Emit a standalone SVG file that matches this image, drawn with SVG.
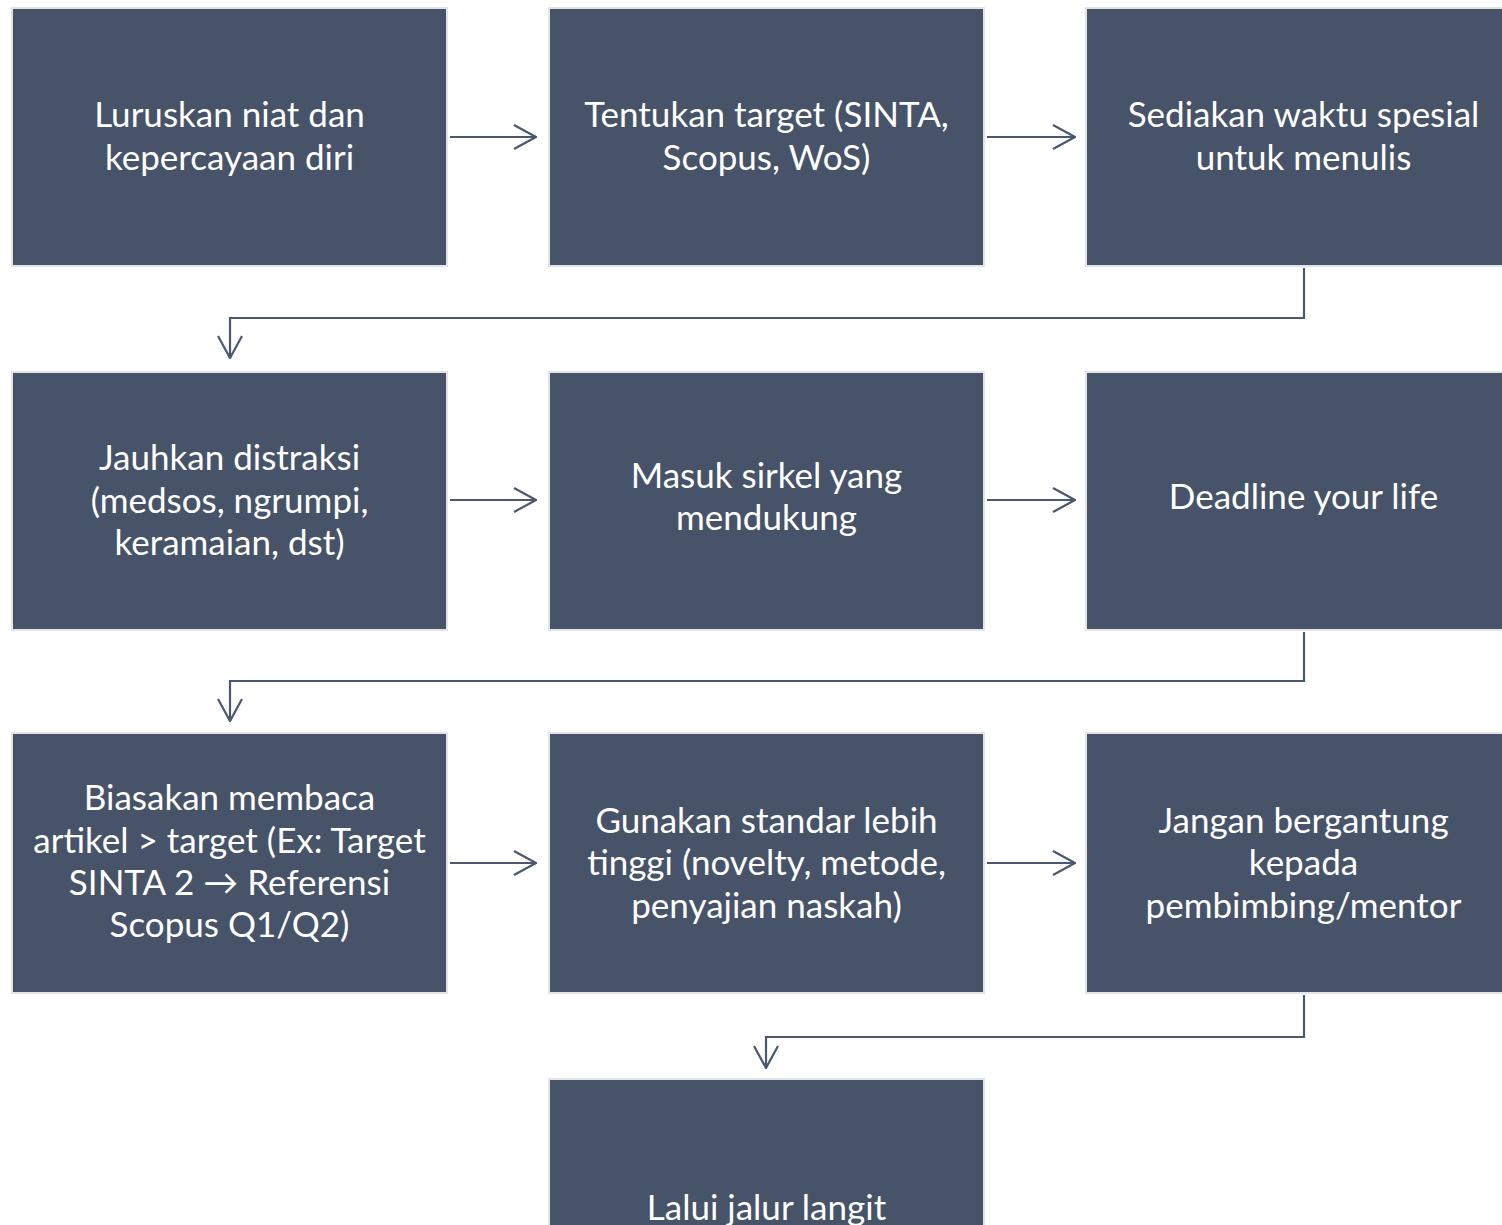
<svg xmlns="http://www.w3.org/2000/svg" width="1502" height="1225" viewBox="0 0 1502 1225">
<defs>
<style>
.box{fill:#465369;stroke:#e3e4e7;stroke-width:2}
.t{font-family:Lato,"Open Sans","Liberation Sans",sans-serif;font-size:35px;fill:#ffffff;text-anchor:middle}
.c{fill:none;stroke:#4a5870;stroke-width:2.2}
</style>
<marker id="ah" viewBox="0 0 24 26" refX="23" refY="13" markerWidth="24" markerHeight="26" markerUnits="userSpaceOnUse" orient="auto">
<path d="M1,1 L23,13 L1,25" fill="none" stroke="#4a5870" stroke-width="2.2"/>
</marker>
</defs>
<rect width="1502" height="1225" fill="#ffffff"/>
<g id="connectors">
<path class="c" d="M450,137 H536" marker-end="url(#ah)"/>
<path class="c" d="M987,137 H1075" marker-end="url(#ah)"/>
<path class="c" d="M1304,268 V318 H230 V358" marker-end="url(#ah)"/>
<path class="c" d="M450,500 H536" marker-end="url(#ah)"/>
<path class="c" d="M987,500 H1075" marker-end="url(#ah)"/>
<path class="c" d="M1304,632 V681 H230 V721" marker-end="url(#ah)"/>
<path class="c" d="M450,863 H536" marker-end="url(#ah)"/>
<path class="c" d="M987,863 H1075" marker-end="url(#ah)"/>
<path class="c" d="M1304,995 V1037 H766 V1068" marker-end="url(#ah)"/>
</g>
<g id="n1"><rect class="box" x="12" y="8" width="435" height="258"/>
<text class="t" x="229.5" y="127">Luruskan niat dan</text><text class="t" x="229.5" y="170">kepercayaan diri</text></g>
<g id="n2"><rect class="box" x="549" y="8" width="435" height="258"/>
<text class="t" x="766.5" y="127">Tentukan target (SINTA,</text><text class="t" x="766.5" y="170">Scopus, WoS)</text></g>
<g id="n3"><rect class="box" x="1086" y="8" width="435" height="258"/>
<text class="t" x="1303.5" y="127">Sediakan waktu spesial</text><text class="t" x="1303.5" y="170">untuk menulis</text></g>
<g id="n4"><rect class="box" x="12" y="372" width="435" height="258"/>
<text class="t" x="229.5" y="470">Jauhkan distraksi</text><text class="t" x="229.5" y="513">(medsos, ngrumpi,</text><text class="t" x="229.5" y="555">keramaian, dst)</text></g>
<g id="n5"><rect class="box" x="549" y="372" width="435" height="258"/>
<text class="t" x="766.5" y="488">Masuk sirkel yang</text><text class="t" x="766.5" y="530">mendukung</text></g>
<g id="n6"><rect class="box" x="1086" y="372" width="435" height="258"/>
<text class="t" x="1303.5" y="509">Deadline your life</text></g>
<g id="n7"><rect class="box" x="12" y="733" width="435" height="260"/>
<text class="t" x="229.5" y="810">Biasakan membaca</text><text class="t" x="229.5" y="853">artikel &gt; target (Ex: Target</text><text class="t" x="229.5" y="895">SINTA 2 → Referensi</text><text class="t" x="229.5" y="937">Scopus Q1/Q2)</text></g>
<g id="n8"><rect class="box" x="549" y="733" width="435" height="260"/>
<text class="t" x="766.5" y="833">Gunakan standar lebih</text><text class="t" x="766.5" y="875">tinggi (novelty, metode,</text><text class="t" x="766.5" y="918">penyajian naskah)</text></g>
<g id="n9"><rect class="box" x="1086" y="733" width="435" height="260"/>
<text class="t" x="1303.5" y="833">Jangan bergantung</text><text class="t" x="1303.5" y="875">kepada</text><text class="t" x="1303.5" y="918">pembimbing/mentor</text></g>
<g id="n10"><rect class="box" x="549" y="1079" width="435" height="200"/>
<text class="t" x="766.5" y="1220">Lalui jalur langit</text></g>
</svg>
